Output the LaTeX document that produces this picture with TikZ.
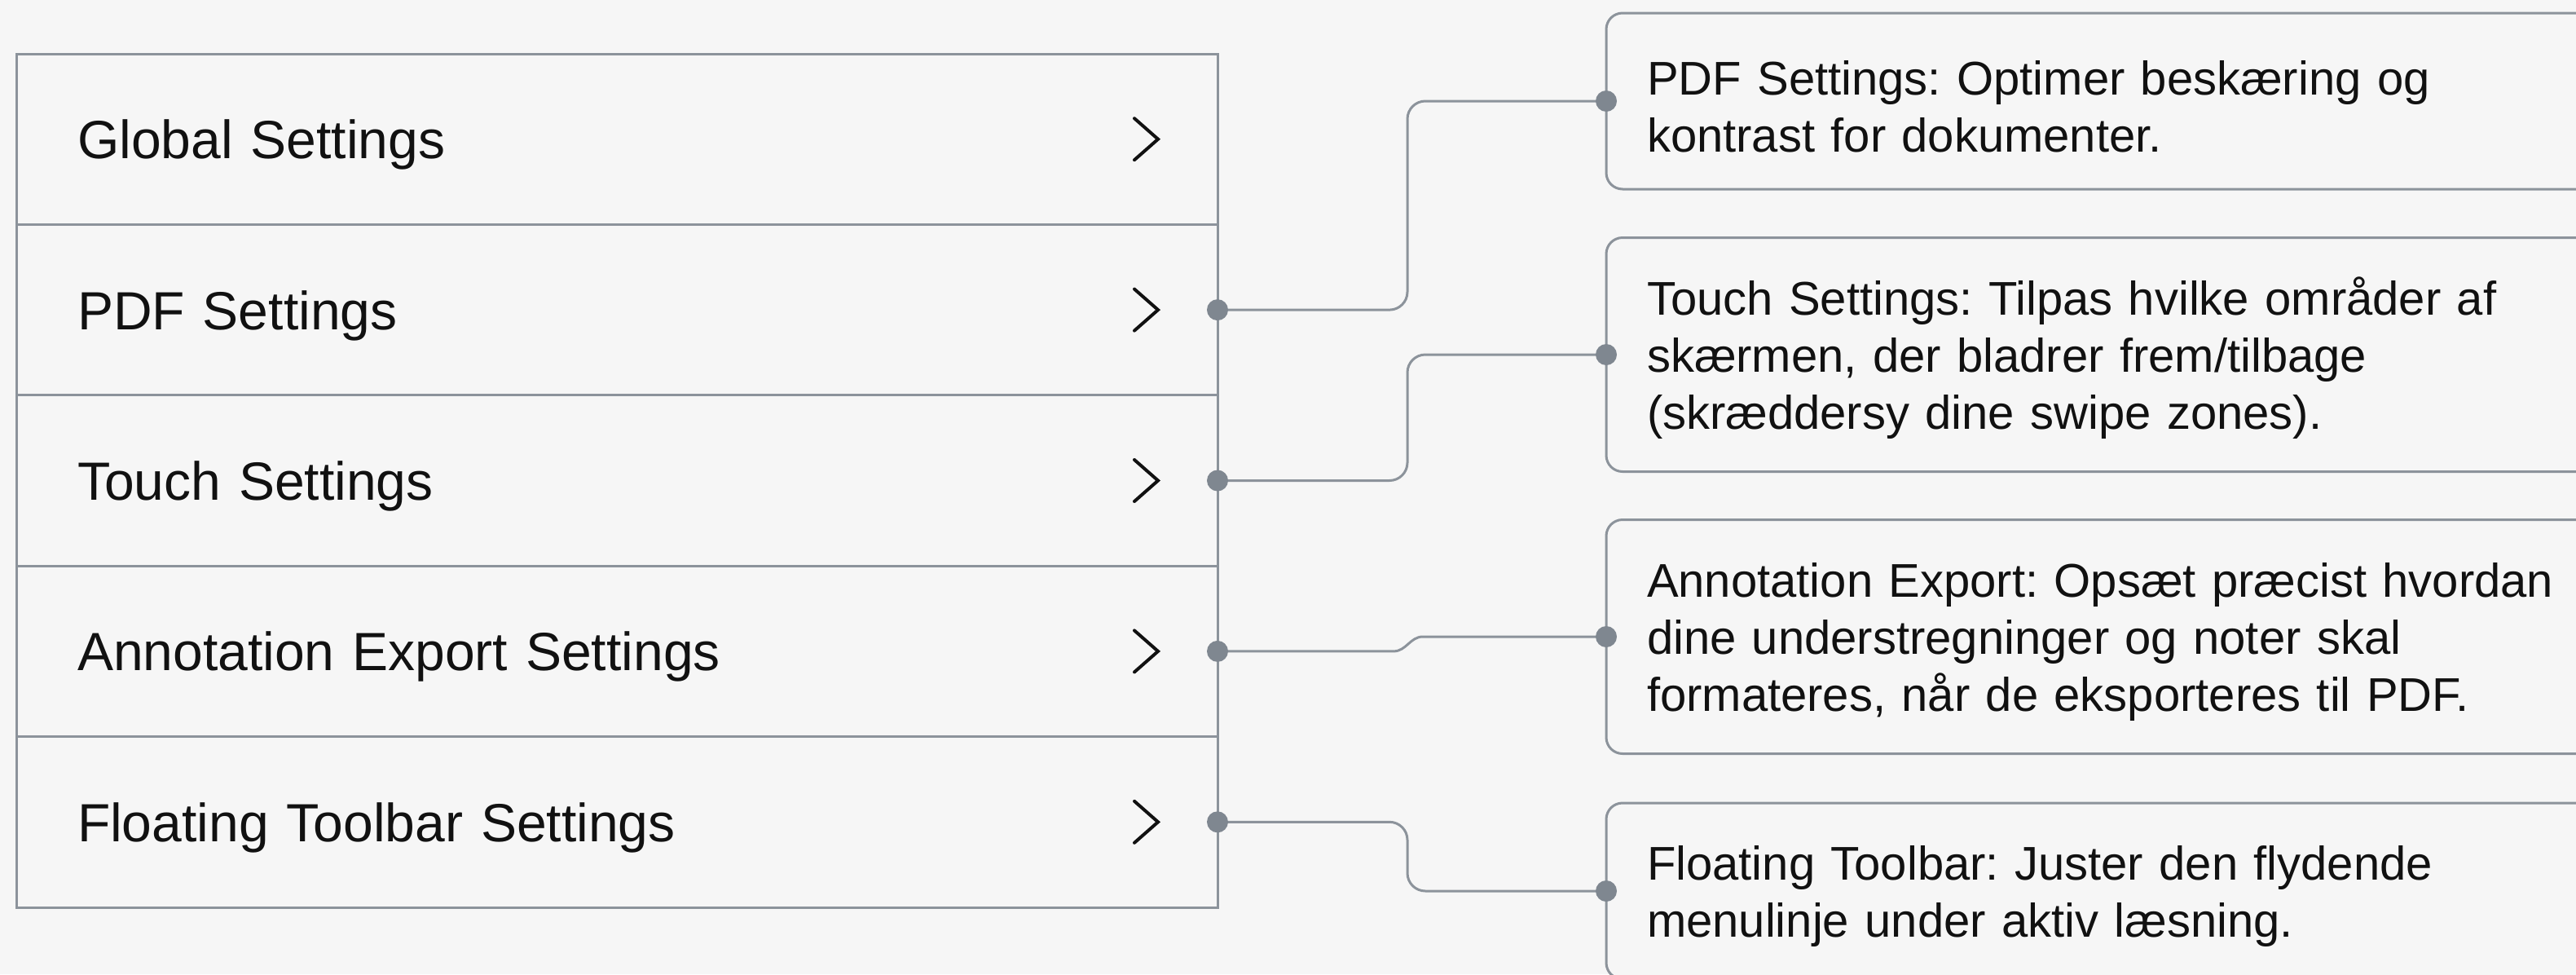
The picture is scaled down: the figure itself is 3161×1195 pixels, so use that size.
\documentclass[tikz,border=0pt]{standalone}
\usepackage{fontspec}
\setmainfont{Liberation Sans}
\usetikzlibrary{calc}
\definecolor{bgc}{HTML}{F6F6F6}
\definecolor{linec}{HTML}{8C939B}
\definecolor{dotc}{HTML}{7F8790}
\definecolor{txtc}{HTML}{111111}
\frenchspacing
\begin{document}
\begin{tikzpicture}[x=0.5pt,y=-0.5pt,
  rowbox/.style={draw=linec, line width=1.5pt, fill=bgc, rectangle,
    minimum width=737pt, minimum height=104.7pt, inner xsep=37.5pt, inner ysep=0pt,
    text width=662pt, align=left, outer sep=0pt, text depth=0pt,
    font=\fontsize{33}{40}\selectfont, text=txtc},
  callout/.style={draw=linec, line width=1.5pt, fill=bgc, rounded corners=10pt,
    anchor=west, inner xsep=25pt, inner ysep=0pt, text width=600pt, align=left,
    outer sep=0pt, font=\fontsize{29}{35}\selectfont\frenchspacing, text=txtc,
    execute at begin node={\rule{0pt}{28pt}}},
  callouttwo/.style={callout, minimum height=108pt},
  calloutthree/.style={callout, minimum height=143.5pt},
  conn/.style={draw=linec, line width=1.5pt, rounded corners=11pt},
  jog/.style={draw=linec, line width=1.5pt},
  chev/.style={draw=txtc, line width=2pt, line cap=round, line join=miter}
]
\useasboundingbox (0,0) rectangle (3161,1195);
\clip (0,0) rectangle (3161,1195);
\fill[bgc] (0,0) rectangle (3161,1195);

% left list
\node[rowbox] (r1) at (757,170.7) {Global Settings};
\node[rowbox] (r2) at (757,380.1) {PDF Settings};
\node[rowbox] (r3) at (757,589.5) {Touch Settings};
\node[rowbox] (r4) at (757,798.9) {Annotation Export Settings};
\node[rowbox] (r5) at (757,1008.3) {Floating Toolbar Settings};

\foreach \r in {r1,r2,r3,r4,r5}
  \draw[chev] ([xshift=-51pt,yshift=12.75pt]\r.east) -- ++(14.5pt,-12.75pt) -- ++(-14.5pt,-12.75pt);

% callouts
\node[callouttwo] (c1) at (1971,124) {PDF Settings: Optimer beskæring og\\kontrast for dokumenter.};
\node[calloutthree] (c2) at (1971,435) {Touch Settings: Tilpas hvilke områder af\\skærmen, der bladrer frem/tilbage\\(skræddersy dine swipe zones).};
\node[calloutthree] (c3) at (1971,781) {Annotation Export: Opsæt præcist hvordan\\dine understregninger og noter skal\\formateres, når de eksporteres til PDF.};
\node[callouttwo] (c4) at (1971,1093) {Floating Toolbar: Juster den flydende\\menulinje under aktiv læsning.};

% connectors
\draw[conn] (r2.east) -- ++(233,0) |- (c1.west);
\draw[conn] (r3.east) -- ++(233,0) |- (c2.west);
\draw[jog] (r4.east) -- ++(216,0) to[out=0,in=180] ($(c3.west)+(-225,0)$) -- (c3.west);
\draw[conn] (r5.east) -- ++(233,0) |- (c4.west);

\foreach \p in {r2.east,r3.east,r4.east,r5.east,c1.west,c2.west,c3.west,c4.west}
  \fill[dotc] (\p) circle (6.5pt);
\end{tikzpicture}
\end{document}
